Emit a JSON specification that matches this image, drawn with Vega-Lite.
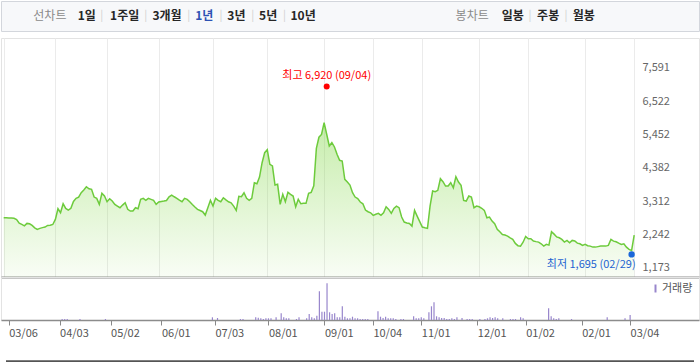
{
"$schema":"https://vega.github.io/schema/vega-lite/v6.json",
"padding":0,
"background":"#ffffff",
"config":{"font":"Noto Sans CJK KR","view":{"stroke":null},"axis":{"labelFont":"Noto Sans CJK KR"},"legend":{"labelFont":"Noto Sans CJK KR"}},
"datasets":{
"tb":[
{"t":"선차트","r":"g","c":6.3},{"t":"1일","r":"b","c":11.05},{"t":"|","r":"s","c":13.0},{"t":"1주일","r":"b","c":15.95},{"t":"|","r":"s","c":18.65},{"t":"3개월","r":"b","c":21.4},{"t":"|","r":"s","c":24.2},{"t":"1년","r":"a","c":26.2},{"t":"|","r":"s","c":28.35},{"t":"3년","r":"b","c":30.35},{"t":"|","r":"s","c":32.45},{"t":"5년","r":"b","c":34.45},{"t":"|","r":"s","c":36.55},{"t":"10년","r":"b","c":38.95},
{"t":"봉차트","r":"g","c":60.75},{"t":"일봉","r":"b","c":66.0},{"t":"|","r":"s","c":68.2},{"t":"주봉","r":"b","c":70.55},{"t":"|","r":"s","c":72.85},{"t":"월봉","r":"b","c":75.15}
],
"grid":[{"p":1173},{"p":2242},{"p":3312},{"p":4382},{"p":5452},{"p":6522},{"p":7591}],
"ext":[{"i":125,"p":6920,"k":"max","label":"최고 6,920 (09/04)"},{"i":243,"p":1695,"k":"min","label":"최저 1,695 (02/29)"}],
"price":[
{"i":0,"p":2775},{"i":1,"p":2775},{"i":2,"p":2770},{"i":3,"p":2770},{"i":4,"p":2760},{"i":5,"p":2720},{"i":6,"p":2605},{"i":7,"p":2563},{"i":8,"p":2518},{"i":9,"p":2595},
{"i":10,"p":2583},{"i":11,"p":2531},{"i":12,"p":2454},{"i":13,"p":2403},{"i":14,"p":2435},{"i":15,"p":2460},{"i":16,"p":2477},{"i":17,"p":2531},{"i":18,"p":2536},{"i":19,"p":2560},
{"i":20,"p":2724},{"i":21,"p":3065},{"i":22,"p":2936},{"i":23,"p":3225},{"i":24,"p":3077},{"i":25,"p":3023},{"i":26,"p":3077},{"i":27,"p":3300},{"i":28,"p":3399},{"i":29,"p":3440},
{"i":30,"p":3579},{"i":31,"p":3665},{"i":32,"p":3771},{"i":33,"p":3707},{"i":34,"p":3688},{"i":35,"p":3440},{"i":36,"p":3399},{"i":37,"p":3206},{"i":38,"p":3559},{"i":39,"p":3473},
{"i":40,"p":3290},{"i":41,"p":3386},{"i":42,"p":3312},{"i":43,"p":3206},{"i":44,"p":3151},{"i":45,"p":3097},{"i":46,"p":3183},{"i":47,"p":3257},{"i":48,"p":3045},{"i":49,"p":2991},
{"i":50,"p":2991},{"i":51,"p":3097},{"i":52,"p":3065},{"i":53,"p":3367},{"i":54,"p":3399},{"i":55,"p":3334},{"i":56,"p":3399},{"i":57,"p":3367},{"i":58,"p":3334},{"i":59,"p":3206},
{"i":60,"p":3280},{"i":61,"p":3300},{"i":62,"p":3312},{"i":63,"p":3330},{"i":64,"p":3450},{"i":65,"p":3505},{"i":66,"p":3450},{"i":67,"p":3400},{"i":68,"p":3340},{"i":69,"p":3290},
{"i":70,"p":3399},{"i":71,"p":3367},{"i":72,"p":3290},{"i":73,"p":3200},{"i":74,"p":3119},{"i":75,"p":3045},{"i":76,"p":3010},{"i":77,"p":2970},{"i":78,"p":2862},{"i":79,"p":3097},
{"i":80,"p":3334},{"i":81,"p":3151},{"i":82,"p":3399},{"i":83,"p":3334},{"i":84,"p":3290},{"i":85,"p":3418},{"i":86,"p":3350},{"i":87,"p":3290},{"i":88,"p":3257},{"i":89,"p":3151},
{"i":90,"p":3013},{"i":91,"p":3463},{"i":92,"p":3450},{"i":93,"p":3579},{"i":94,"p":3399},{"i":95,"p":3334},{"i":96,"p":3399},{"i":97,"p":3900},{"i":98,"p":3868},{"i":99,"p":4083},
{"i":100,"p":4543},{"i":101,"p":4864},{"i":102,"p":4960},{"i":103,"p":4491},{"i":104,"p":4437},{"i":105,"p":3826},{"i":106,"p":3849},{"i":107,"p":3206},{"i":108,"p":3527},{"i":109,"p":3290},
{"i":110,"p":3592},{"i":111,"p":3527},{"i":112,"p":3473},{"i":113,"p":3129},{"i":114,"p":3367},{"i":115,"p":3225},{"i":116,"p":3238},{"i":117,"p":3238},{"i":118,"p":3560},{"i":119,"p":3590},
{"i":120,"p":3800},{"i":121,"p":5000},{"i":122,"p":5360},{"i":123,"p":5450},{"i":124,"p":5830},{"i":125,"p":5455},{"i":126,"p":5079},{"i":127,"p":5185},{"i":128,"p":5047},{"i":129,"p":4812},
{"i":130,"p":4620},{"i":131,"p":4597},{"i":132,"p":4009},{"i":133,"p":3922},{"i":134,"p":3826},{"i":135,"p":3579},{"i":136,"p":3441},{"i":137,"p":3390},{"i":138,"p":3280},{"i":139,"p":3225},
{"i":140,"p":3023},{"i":141,"p":2970},{"i":142,"p":2936},{"i":143,"p":2853},{"i":144,"p":2890},{"i":145,"p":2917},{"i":146,"p":2853},{"i":147,"p":2936},{"i":148,"p":3129},{"i":149,"p":3045},
{"i":150,"p":2917},{"i":151,"p":3077},{"i":152,"p":3151},{"i":153,"p":3100},{"i":154,"p":2800},{"i":155,"p":2637},{"i":156,"p":2610},{"i":157,"p":2595},{"i":158,"p":2509},{"i":159,"p":3013},
{"i":160,"p":2830},{"i":161,"p":2650},{"i":162,"p":2477},{"i":163,"p":2454},{"i":164,"p":2435},{"i":165,"p":3151},{"i":166,"p":3633},{"i":167,"p":3611},{"i":168,"p":3656},{"i":169,"p":4028},
{"i":170,"p":3932},{"i":171,"p":3794},{"i":172,"p":3794},{"i":173,"p":3900},{"i":174,"p":3739},{"i":175,"p":4093},{"i":176,"p":3922},{"i":177,"p":3816},{"i":178,"p":3334},{"i":179,"p":3312},
{"i":180,"p":3473},{"i":181,"p":3441},{"i":182,"p":3097},{"i":183,"p":3151},{"i":184,"p":3129},{"i":185,"p":3080},{"i":186,"p":3013},{"i":187,"p":2775},{"i":188,"p":2798},{"i":189,"p":2669},
{"i":190,"p":2583},{"i":191,"p":2403},{"i":192,"p":2326},{"i":193,"p":2240},{"i":194,"p":2220},{"i":195,"p":2187},{"i":196,"p":2130},{"i":197,"p":2081},{"i":198,"p":1953},{"i":199,"p":1880},
{"i":200,"p":1866},{"i":201,"p":1990},{"i":202,"p":2178},{"i":203,"p":2101},{"i":204,"p":2101},{"i":205,"p":2027},{"i":206,"p":2010},{"i":207,"p":1995},{"i":208,"p":1940},{"i":209,"p":1866},
{"i":210,"p":1921},{"i":211,"p":1898},{"i":212,"p":2326},{"i":213,"p":2250},{"i":214,"p":2160},{"i":215,"p":2133},{"i":216,"p":2081},{"i":217,"p":1995},{"i":218,"p":2049},{"i":219,"p":1972},
{"i":220,"p":2049},{"i":221,"p":2030},{"i":222,"p":1960},{"i":223,"p":1940},{"i":224,"p":1889},{"i":225,"p":1921},{"i":226,"p":1880},{"i":227,"p":1866},{"i":228,"p":1834},{"i":229,"p":1834},
{"i":230,"p":1850},{"i":231,"p":1866},{"i":232,"p":1866},{"i":233,"p":1866},{"i":234,"p":1889},{"i":235,"p":2081},{"i":236,"p":2027},{"i":237,"p":2004},{"i":238,"p":1960},{"i":239,"p":1921},
{"i":240,"p":1940},{"i":241,"p":1834},{"i":242,"p":1760},{"i":243,"p":1727},{"i":244,"p":2220}
],
"vol":[
{"i":21,"v":100},{"i":22,"v":100},{"i":23,"v":100},{"i":28,"v":100},{"i":38,"v":100},{"i":80,"v":270},{"i":82,"v":200},{"i":91,"v":100},{"i":92,"v":100},{"i":97,"v":270},
{"i":98,"v":230},{"i":99,"v":170},{"i":100,"v":100},{"i":101,"v":170},{"i":102,"v":170},{"i":103,"v":170},{"i":105,"v":270},{"i":107,"v":670},{"i":108,"v":270},{"i":109,"v":170},
{"i":110,"v":170},{"i":113,"v":100},{"i":114,"v":270},{"i":117,"v":170},{"i":118,"v":600},{"i":119,"v":270},{"i":120,"v":170},{"i":121,"v":430},{"i":122,"v":2870},{"i":123,"v":830},
{"i":124,"v":830},{"i":125,"v":3670},{"i":126,"v":770},{"i":127,"v":600},{"i":128,"v":670},{"i":129,"v":270},{"i":130,"v":270},{"i":131,"v":1370},{"i":132,"v":330},{"i":133,"v":170},
{"i":134,"v":170},{"i":135,"v":330},{"i":136,"v":170},{"i":137,"v":170},{"i":138,"v":100},{"i":139,"v":100},{"i":140,"v":100},{"i":141,"v":100},{"i":145,"v":870},{"i":146,"v":330},
{"i":147,"v":200},{"i":148,"v":330},{"i":149,"v":170},{"i":150,"v":170},{"i":151,"v":170},{"i":152,"v":100},{"i":154,"v":100},{"i":155,"v":100},{"i":159,"v":370},{"i":160,"v":170},
{"i":161,"v":170},{"i":162,"v":270},{"i":163,"v":170},{"i":165,"v":770},{"i":166,"v":1370},{"i":167,"v":1770},{"i":168,"v":370},{"i":169,"v":270},{"i":170,"v":200},{"i":171,"v":200},
{"i":172,"v":100},{"i":173,"v":100},{"i":174,"v":170},{"i":175,"v":100},{"i":176,"v":270},{"i":178,"v":200},{"i":180,"v":100},{"i":181,"v":100},{"i":182,"v":100},{"i":185,"v":100},
{"i":187,"v":100},{"i":188,"v":170},{"i":189,"v":270},{"i":190,"v":200},{"i":191,"v":270},{"i":192,"v":170},{"i":194,"v":170},{"i":197,"v":100},{"i":198,"v":100},{"i":199,"v":100},
{"i":201,"v":270},{"i":202,"v":170},{"i":212,"v":1170},{"i":213,"v":370},{"i":214,"v":170},{"i":215,"v":100},{"i":216,"v":170},{"i":221,"v":100},{"i":235,"v":270},{"i":242,"v":170},
{"i":244,"v":500}
]
},
"spacing":7,
"bounds":"flush",
"vconcat":[
{"width":698,"height":30,"view":{"fill":"#f7f8fa","stroke":"#d3d6dc"},"data":{"name":"tb"},
 "encoding":{"x":{"field":"c","type":"quantitative","scale":{"domain":[0,90],"nice":false,"zero":false},"axis":null},"text":{"field":"t"}},
 "layer":[
  {"transform":[{"filter":"datum.r=='g'"}],"mark":{"type":"text","fontSize":12,"color":"#8a8a8a"}},
  {"transform":[{"filter":"datum.r=='b'"}],"mark":{"type":"text","fontSize":12,"fontWeight":"bold","color":"#262626"}},
  {"transform":[{"filter":"datum.r=='a'"}],"mark":{"type":"text","fontSize":12,"fontWeight":"bold","color":"#2d52b3"}},
  {"transform":[{"filter":"datum.r=='s'"}],"mark":{"type":"text","fontSize":11,"color":"#d0d0d0"}}
 ]},
{"spacing":0,"bounds":"flush","vconcat":[
 {"width":698,"height":239,"view":{"stroke":"#e3e3e3"},
  "encoding":{
   "x":{"field":"i","type":"quantitative","scale":{"domain":[-1.045,269.08],"nice":false,"zero":false},
        "axis":{"values":[0,20,40,60,81,102,124,143,162,184,203,225,244],"grid":true,"gridColor":"#ebebeb","labels":false,"ticks":false,"domain":true,"domainColor":"#909090","domainWidth":2,"title":null}},
   "y":{"field":"p","type":"quantitative","scale":{"domain":[875,8544],"nice":false,"zero":false},
        "axis":{"orient":"right","values":[1173,2242,3312,4382,5452,6522,7591],"format":",d","grid":false,"ticks":false,"tickSize":0,"domain":false,"labelPadding":0,"offset":-57,"labelColor":"#666666","labelFontSize":11,"title":null}}
  },
  "layer":[
   {"data":{"name":"grid"},"mark":{"type":"rule","color":"#ebebeb"},"encoding":{"x":{"datum":-1.045},"x2":{"datum":244}}},
   {"data":{"name":"price"},"mark":{"type":"area","fill":{"gradient":"linear","x1":0,"y1":0,"x2":0,"y2":1,"stops":[{"offset":0,"color":"rgba(130,215,70,0.45)"},{"offset":1,"color":"rgba(130,215,70,0.05)"}]}},"encoding":{"y2":{"datum":875}}},
   {"data":{"name":"price"},"mark":{"type":"line","color":"#6dcb3c","strokeWidth":1.5}},
   {"data":{"name":"ext"},"transform":[{"filter":"datum.k=='max'"}],"layer":[
     {"mark":{"type":"circle","size":36,"color":"#ff0000","opacity":1,"yOffset":-2}},
     {"mark":{"type":"text","fontSize":11,"color":"#ff0000","dy":-13},"encoding":{"text":{"field":"label"}}}]},
   {"data":{"name":"ext"},"transform":[{"filter":"datum.k=='min'"}],"layer":[
     {"mark":{"type":"circle","size":40,"color":"#1a66d9","opacity":1,"yOffset":3}},
     {"mark":{"type":"text","fontSize":11,"color":"#1f63d1","align":"right","dx":4,"dy":14},"encoding":{"text":{"field":"label"}}}]}
  ]},
 {"width":698,"height":43,"view":{"stroke":"#e3e3e3"},
  "encoding":{
   "x":{"field":"i","type":"quantitative","scale":{"domain":[-1.045,269.08],"nice":false,"zero":false},
        "axis":{"values":[0,20,40,60,81,102,124,143,162,184,203,225,244],
                "labelExpr":"['03/06','04/03','05/02','06/01','07/03','08/01','09/01','10/04','11/01','12/01','01/02','02/01','03/04'][indexof([0,20,40,60,81,102,124,143,162,184,203,225,244], datum.value)]",
                "labelAlign":"left","labelBaseline":"top","labelPadding":2,"tickSize":5,"tickColor":"#888888","domainColor":"#8c8c8c","domainWidth":1.5,"labelColor":"#555555","labelFontSize":11,"grid":false,"title":null,"labelFlush":false,"labelOverlap":false,"labelBound":false}},
   "y":{"field":"v","type":"quantitative","scale":{"domain":[0,4300],"nice":false,"zero":false},"axis":null}
  },
  "layer":[
   {"data":{"values":[{"i":-1.045,"i2":269.08,"v":-4170}]},"mark":{"type":"rule","color":"#555555","strokeWidth":3,"clip":false},
    "encoding":{"x2":{"field":"i2"}}},
   {"data":{"name":"vol"},"mark":{"type":"bar","width":1.2},
    "encoding":{"color":{"datum":"거래량","type":"nominal","scale":{"range":["#9886cc"]},
            "legend":{"orient":"none","legendX":649,"legendY":282,"title":null,"symbolType":"M-0.25,-1H0.25V1H-0.25Z","symbolSize":64,"symbolStrokeWidth":0,"labelFontSize":11,"labelColor":"#555555","labelOffset":1,"padding":0}}}}
  ]}
]}
]
}
